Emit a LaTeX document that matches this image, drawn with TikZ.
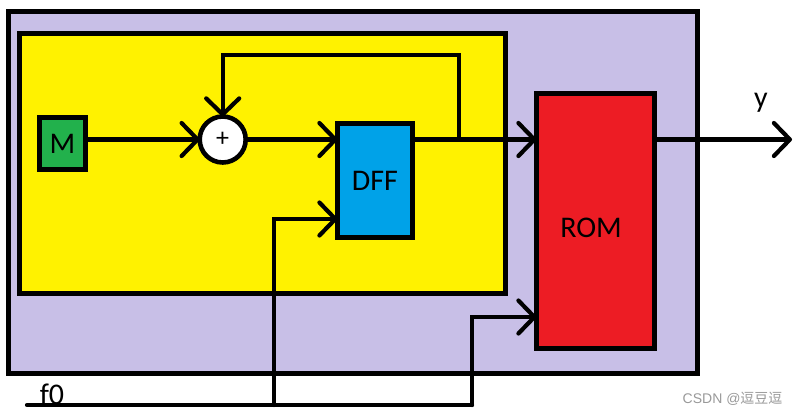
\documentclass[tikz,border=0pt]{standalone}
\usepackage{fontspec}
\setmainfont{Carlito}
\newfontfamily\cjkfont{Noto Sans CJK SC}
\newfontfamily\markfont{Liberation Sans}
\usetikzlibrary{arrows.meta, positioning}
\definecolor{outerfill}{RGB}{200,191,231}
\definecolor{innerfill}{RGB}{255,242,0}
\definecolor{mfill}{RGB}{34,177,76}
\definecolor{dfffill}{RGB}{0,162,232}
\definecolor{romfill}{RGB}{237,28,36}
\tikzset{
  block/.style={draw=black, line width=4.6pt, inner sep=0pt, outer sep=0pt, font=\fontsize{30}{30}\selectfont},
  wire/.style={line width=4.2pt, line cap=round, line join=miter},
}

\begin{document}
\begin{tikzpicture}[x=1pt, y=-1pt, >={Straight Barb[length=16pt, width=33pt, round]}]
                \useasboundingbox (0,0) rectangle (799,416);

                % Caixas externas
                \node[block, fill=outerfill, minimum width=689pt, minimum height=362pt] (outerbox) at (353,192.5) {};
                \node[block, fill=innerfill, minimum width=486pt, minimum height=260pt] (innerbox) at (262.5,163.5) {};

                % Blocos
                \node[block, fill=mfill, minimum width=46pt, minimum height=52pt] (mbox) at (62.5,143.75) {M};
                \node[block, fill=white, circle, minimum size=46pt] (sum) at (222.7,139.5) {\fontsize{26}{26}\selectfont +};
                \node[block, fill=dfffill, minimum width=75pt, minimum height=113.5pt] (dff) at (375,180.5) {DFF};
                \node[block, fill=romfill, minimum width=118pt, minimum height=255pt] (rom) at (595.5,221) {};

                % Pontos dos fios
                \coordinate (fbstart) at (459,139.5);
                \coordinate (fbright) at (459,55);
                \coordinate (fbleft) at (222.7,55);
                \coordinate (clkstart) at (27,405);
                \coordinate (clkdff) at (274,405);
                \coordinate (clkrom) at (472,405);
                \coordinate (yout) at (792,139.5);

                % Caminho de dados
                \draw[wire, ->] (mbox.east |- sum) -- (sum.west);
                \draw[wire, ->] (sum.east) -- (sum -| dff.west);
                \draw[wire, ->] (dff.east |- sum) -- (sum -| rom.west);
                \draw[wire, ->] (fbstart) -- (fbright) -- (fbleft) -- (sum.north);
                \draw[wire, ->] (rom.east |- yout) -- (yout);

                % Relogio f0
                \draw[wire] (clkstart) -- (clkrom);
                \draw[wire, ->] (clkdff) |- (dff.west |- 0,219);
                \draw[wire, ->] (clkrom) |- (rom.west |- 0,317);

                % Textos soltos
                \node[font=\fontsize{30}{30}\selectfont] (romlabel) at (591,228) {ROM};
                \node[font=\fontsize{30}{30}\selectfont] (flabel) at (52,394) {f0};
                \node[font=\fontsize{30}{30}\selectfont] (ylabel) at (761,103) {y};
                \node[font=\fontsize{14}{14}\selectfont\markfont, text=black!40, anchor=east] (mark) at (786,399) {CSDN @{\cjkfont 逗豆逗}};

            \end{tikzpicture}
\end{document}
